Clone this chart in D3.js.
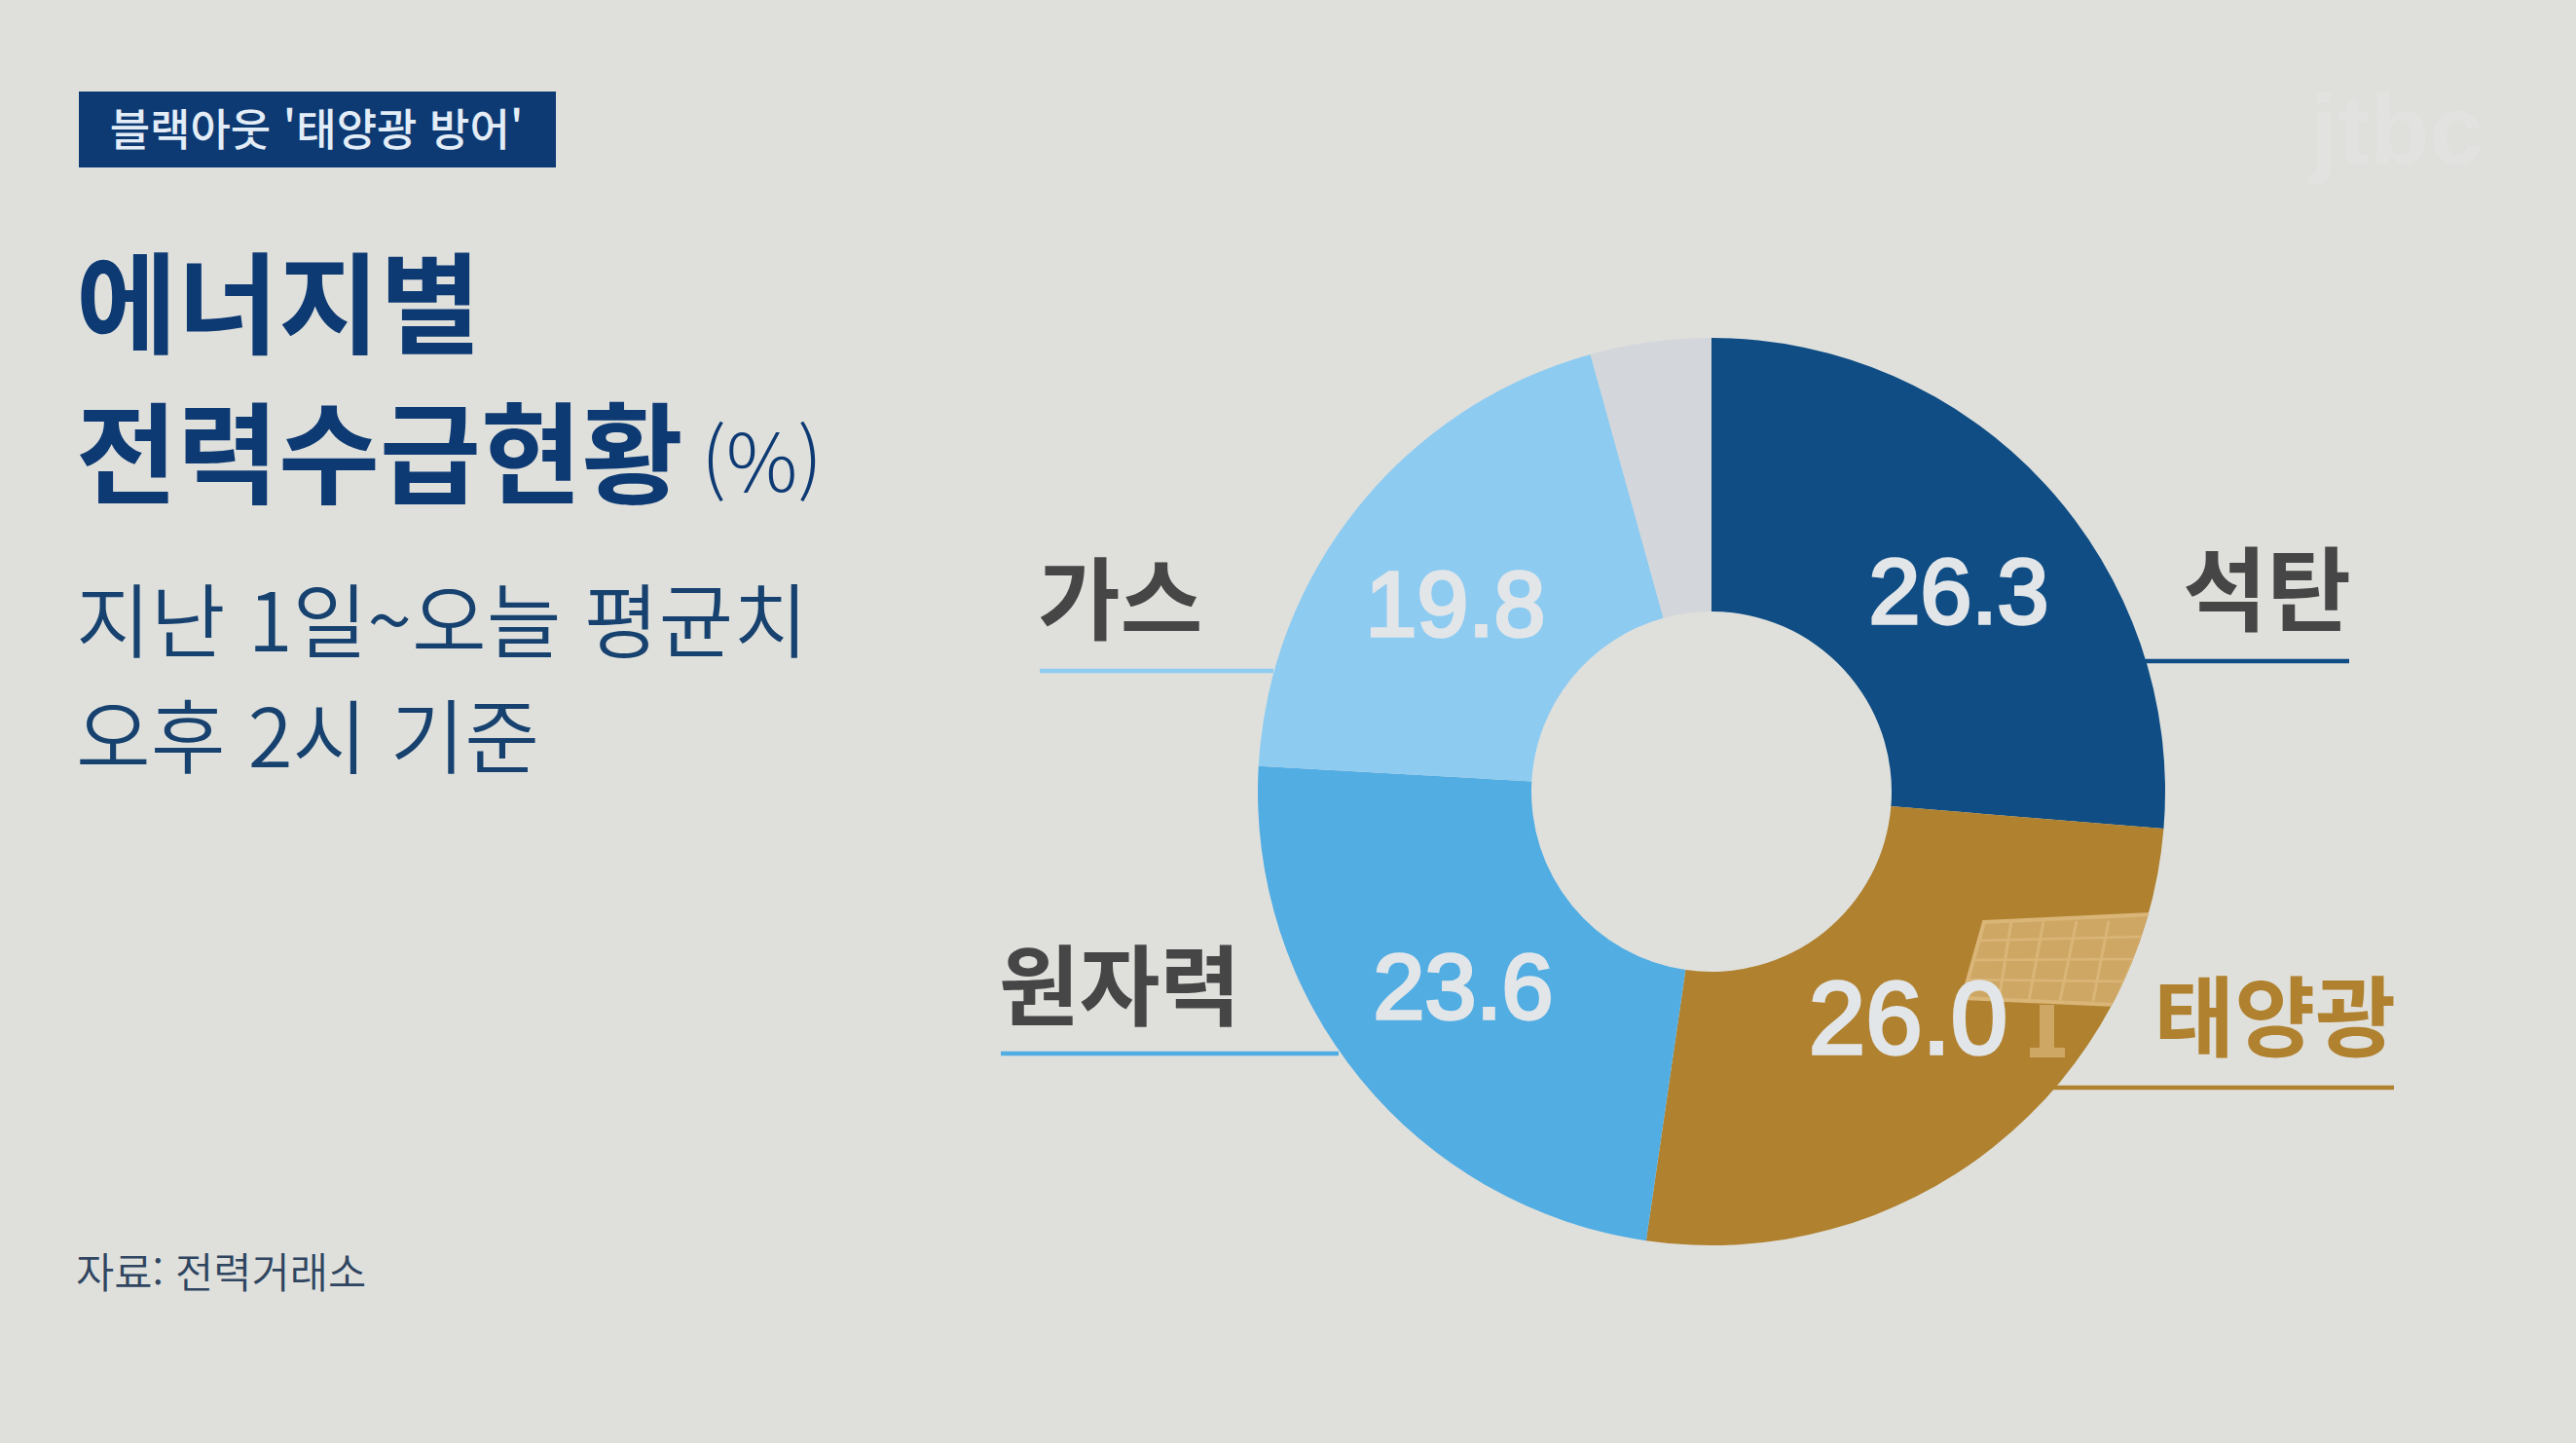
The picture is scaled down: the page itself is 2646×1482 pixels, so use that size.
<!DOCTYPE html>
<html lang="ko"><head><meta charset="utf-8">
<script src="https://cdn.jsdelivr.net/npm/d3@7"></script>
<style>html,body{margin:0;padding:0;background:#dfe0dc;overflow:hidden}svg{display:block}</style>
</head><body><div id="chart"></div>
<script>
const categories = ["석탄","태양광","원자력","가스","기타"];
const values = [26.3,26.0,23.6,19.8,4.3];
const valueLabels = ["26.3","26.0","23.6","19.8",""];
const colors = ["#0f4d84","#b0812f","#52ade3","#8ecbf1","#d3d6da"];

const W=2646,H=1482,KR="'Noto Sans CJK KR','Noto Sans',sans-serif",NUM="'Liberation Sans',Arial,sans-serif";
const navy="#0e3a73";
const svg=d3.select("#chart").append("svg").attr("width",W).attr("height",H).attr("viewBox",`0 0 ${W} ${H}`);
svg.append("rect").attr("width",W).attr("height",H).attr("fill","#dfe0dc");

const cx=1758,cy=813,R=466,r0=185;
const pie=d3.pie().sort(null).value(d=>d.v);
const arc=d3.arc().innerRadius(r0).outerRadius(R);
const rows=categories.map((c,i)=>({c,v:values[i],col:colors[i],l:valueLabels[i]}));
const arcs=pie(rows);
const g=svg.append("g").attr("transform",`translate(${cx},${cy})`);
g.selectAll("path").data(arcs).join("path").attr("d",arc).attr("fill",d=>d.data.col);

// solar-panel decoration clipped to the solar slice
const defs=svg.append("defs");
defs.append("clipPath").attr("id","solarClip").append("path")
  .attr("transform",`translate(${cx},${cy})`).attr("d",arc(arcs[1]));
const deco=svg.append("g").attr("clip-path","url(#solarClip)");
const tint="#cfa765",edge="#d9b577";
deco.append("path").attr("d","M2038,947 L2212,939 L2172,1032 L2016,1025 Z").attr("fill",tint).attr("stroke",edge).attr("stroke-width",4);
[[2066,2053],[2099,2084],[2133,2116],[2166,2150]].forEach(([a,b])=>deco.append("line").attr("x1",a).attr("y1",946).attr("x2",b).attr("y2",1028).attr("stroke",edge).attr("stroke-width",3));
[[2032,966,2200,962],[2027,986,2195,985],[2021,1006,2185,1008]].forEach(([a,b,c,d])=>deco.append("line").attr("x1",a).attr("y1",b).attr("x2",c).attr("y2",d).attr("stroke",edge).attr("stroke-width",2.5));
deco.append("rect").attr("x",2095).attr("y",1032).attr("width",15).attr("height",46).attr("fill",tint);
deco.append("rect").attr("x",2085).attr("y",1076).attr("width",36).attr("height",10).attr("fill",tint);

// callout lines + category labels
const callouts=[
 {i:0,x1:2202,x2:2413,y:679,tx:2415,ty:641,a:"end",fs:94,fill:"#464646"},
 {i:1,x1:2109,x2:2459,y:1117,tx:2461,ty:1078,a:"end",fs:90,fill:"#b0812f"},
 {i:2,x1:1028,x2:1375,y:1082,tx:1026,ty:1046,a:"start",fs:90,fill:"#464646"},
 {i:3,x1:1068,x2:1308,y:689,tx:1066,ty:650,a:"start",fs:92,fill:"#464646"}];
callouts.forEach(o=>{
 svg.append("line").attr("x1",o.x1).attr("x2",o.x2).attr("y1",o.y).attr("y2",o.y).attr("stroke",colors[o.i]).attr("stroke-width",4.5);
 svg.append("text").attr("x",o.tx).attr("y",o.ty).attr("text-anchor",o.a).attr("font-family",KR).attr("font-weight",700).attr("font-size",o.fs).attr("fill",o.fill).text(categories[o.i]);
});
// value labels
const vp=[[2012,640,95],[1960,1082,105],[1503,1046,95],[1495,653,95]];
vp.forEach(([x,y,fs],i)=>svg.append("text").attr("x",x).attr("y",y).attr("text-anchor","middle").attr("font-family",NUM).attr("font-weight",400).attr("font-size",fs).attr("fill","#e2e6e9").attr("stroke","#e2e6e9").attr("stroke-width",3.5).text(valueLabels[i]));

// header
svg.append("rect").attr("x",81).attr("y",94).attr("width",490).attr("height",78).attr("fill",navy);
const t=(x,y,s,fs,w,fill,a)=>svg.append("text").attr("x",x).attr("y",y).attr("font-family",KR).attr("font-size",fs).attr("font-weight",w).attr("fill",fill).attr("text-anchor",a||"start").text(s);
t(325,150,"블랙아웃 '태양광 방어'",45,500,"#e3edf7","middle");
t(78,354,"에너지별",113,700,navy);
t(78,508,"전력수급현황",113,700,navy);
t(720,505,"(%)",82,300,navy);
t(78,669,"지난 1일~오늘 평균치",83.4,350,"#17426f");
t(78,788,"오후 2시 기준",83.4,350,"#17426f");
t(78,1323,"자료: 전력거래소",42.7,350,"#2f4560");
// faint broadcaster mark
svg.append("text").attr("x",2462).attr("y",168).attr("text-anchor","middle").attr("font-family",NUM).attr("font-weight",700).attr("font-size",100).attr("fill","#e2e3e1").text("jtbc");
</script></body></html>
